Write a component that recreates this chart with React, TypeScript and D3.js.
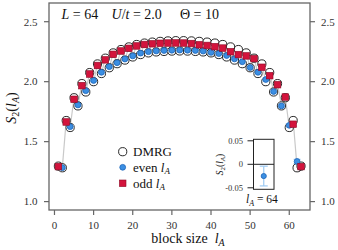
import * as d3 from 'd3';
import React from 'react';

// block sizes
const lOdd = [1, 3, 5, 7, 9, 11, 13, 15, 17, 19, 21, 23, 25, 27, 29, 31, 33, 35, 37, 39, 41, 43, 45, 47, 49, 51, 53, 55, 57, 59, 61, 63];
const lEven = [2, 4, 6, 8, 10, 12, 14, 16, 18, 20, 22, 24, 26, 28, 30, 32, 34, 36, 38, 40, 42, 44, 46, 48, 50, 52, 54, 56, 58, 60, 62];

// QMC, odd l_A
const sOdd = [1.292, 1.664, 1.853, 1.967, 2.064, 2.135, 2.182, 2.228, 2.256, 2.278, 2.298, 2.31, 2.316, 2.32, 2.322, 2.323, 2.322, 2.318, 2.308, 2.302, 2.292, 2.28, 2.25, 2.226, 2.215, 2.192, 2.12, 2.05, 1.975, 1.872, 1.645, 1.292];
const errOdd = [0.006, 0.008, 0.008, 0.008, 0.008, 0.008, 0.008, 0.008, 0.008, 0.008, 0.008, 0.008, 0.008, 0.008, 0.008, 0.008, 0.008, 0.008, 0.008, 0.008, 0.008, 0.008, 0.008, 0.008, 0.008, 0.01, 0.012, 0.012, 0.012, 0.014, 0.016, 0.012];

// QMC, even l_A
const sEven = [1.283, 1.625, 1.806, 1.925, 2.01, 2.078, 2.125, 2.158, 2.189, 2.215, 2.238, 2.25, 2.256, 2.26, 2.262, 2.263, 2.262, 2.26, 2.255, 2.244, 2.234, 2.218, 2.19, 2.166, 2.118, 2.078, 2.018, 1.918, 1.798, 1.636, 1.335];
const errEven = [0.006, 0.008, 0.008, 0.008, 0.008, 0.008, 0.008, 0.008, 0.008, 0.008, 0.008, 0.008, 0.008, 0.008, 0.008, 0.008, 0.008, 0.008, 0.008, 0.008, 0.008, 0.008, 0.008, 0.008, 0.01, 0.01, 0.012, 0.012, 0.014, 0.014, 0.018];

// DMRG, l_A = 1..63
const lAll = [1, 2, 3, 4, 5, 6, 7, 8, 9, 10, 11, 12, 13, 14, 15, 16, 17, 18, 19, 20, 21, 22, 23, 24, 25, 26, 27, 28, 29, 30, 31, 32, 33, 34, 35, 36, 37, 38, 39, 40, 41, 42, 43, 44, 45, 46, 47, 48, 49, 50, 51, 52, 53, 54, 55, 56, 57, 58, 59, 60, 61, 62, 63];
const sDmrg = [1.296, 1.282, 1.676, 1.618, 1.866, 1.798, 1.984, 1.914, 2.076, 2.0, 2.148, 2.068, 2.196, 2.116, 2.24, 2.15, 2.268, 2.18, 2.29, 2.206, 2.31, 2.226, 2.322, 2.24, 2.33, 2.248, 2.336, 2.252, 2.34, 2.255, 2.342, 2.256, 2.342, 2.255, 2.34, 2.252, 2.336, 2.248, 2.33, 2.24, 2.322, 2.226, 2.31, 2.206, 2.29, 2.18, 2.268, 2.15, 2.24, 2.116, 2.196, 2.068, 2.148, 2.0, 2.076, 1.914, 1.984, 1.798, 1.866, 1.618, 1.676, 1.282, 1.296];

const xTicks = [0, 10, 20, 30, 40, 50, 60];
const yTicks = [1.0, 1.5, 2.0, 2.5];

// inset: l_A = 64
const insetL = [64];
const insetS = [-0.025];
const insetErr = [0.021];
const insetTicks = [0.05, 0, -0.05];

const W = 338;
const H = 250;
const FONT = '"Liberation Serif", "DejaVu Serif", serif';
const AXIS = '#666';
const RED = '#d3133c';
const BLUE = '#3b8fe3';

const App: React.FC = () => {
    const x = d3.scaleLinear().domain([-1.4, 65.3]).range([49, 310]);
    const y = d3.scaleLinear().domain([0.93, 2.656]).range([210, 3]);

    const line = d3
        .line<number>()
        .x((d, i) => x(lAll[i]))
        .y((d) => y(d));

    // inset scales
    const ix = d3.scaleLinear().domain([63, 65]).range([253.5, 274]);
    const iy = d3.scaleLinear().domain([-0.0532, 0.0532]).range([189.3, 139.3]);

    const cap = 3.5;
    const sq = 6.6;

    return (
        <svg width={W} height={H} style={{ position: 'absolute', left: 0, top: 0 }} fontFamily={FONT}>
            <rect x={0} y={0} width={W} height={H} fill="white" />

            {/* gray guide line through DMRG */}
            <path d={line(sDmrg) ?? ''} fill="none" stroke="#c9c9c9" strokeWidth={1.2} />

            {/* DMRG circles */}
            <g fill="white" stroke="#111" strokeWidth={0.9}>
                {sDmrg.map((d, i) => (
                    <circle key={i} cx={x(lAll[i])} cy={y(d)} r={4.1} />
                ))}
            </g>

            {/* even l_A */}
            <g>
                {sEven.map((d, i) => {
                    const cx = x(lEven[i]);
                    return (
                        <g key={i} stroke="#9cc9f2" strokeWidth={1}>
                            <line x1={cx} x2={cx} y1={y(d - errEven[i])} y2={y(d + errEven[i])} />
                            <line x1={cx - cap} x2={cx + cap} y1={y(d - errEven[i])} y2={y(d - errEven[i])} />
                            <line x1={cx - cap} x2={cx + cap} y1={y(d + errEven[i])} y2={y(d + errEven[i])} />
                        </g>
                    );
                })}
                {sEven.map((d, i) => (
                    <circle key={i} cx={x(lEven[i])} cy={y(d)} r={2.9} fill={BLUE} stroke="#1d64b8" strokeWidth={0.8} />
                ))}
            </g>

            {/* odd l_A */}
            <g>
                {sOdd.map((d, i) => {
                    const cx = x(lOdd[i]);
                    return (
                        <g key={i} stroke="#f2a3b4" strokeWidth={1}>
                            <line x1={cx} x2={cx} y1={y(d - errOdd[i])} y2={y(d + errOdd[i])} />
                            <line x1={cx - cap} x2={cx + cap} y1={y(d - errOdd[i])} y2={y(d - errOdd[i])} />
                            <line x1={cx - cap} x2={cx + cap} y1={y(d + errOdd[i])} y2={y(d + errOdd[i])} />
                        </g>
                    );
                })}
                {sOdd.map((d, i) => (
                    <rect key={i} x={x(lOdd[i]) - sq / 2} y={y(d) - sq / 2} width={sq} height={sq} fill={RED} stroke="#8e0a26" strokeWidth={0.6} />
                ))}
            </g>

            {/* frame */}
            <rect x={49} y={3} width={261} height={207} fill="none" stroke={AXIS} strokeWidth={1.3} />

            {/* left / right y ticks, bottom x ticks */}
            <g fontSize={11} fill="#333">
                {yTicks.map((t) => (
                    <g key={t}>
                        <line x1={44} x2={49} y1={y(t)} y2={y(t)} stroke={AXIS} strokeWidth={1.2} />
                        <text x={37.5} y={y(t) + 3.8} textAnchor="end">{t.toFixed(1)}</text>
                        <line x1={310} x2={315} y1={y(t)} y2={y(t)} stroke={AXIS} strokeWidth={1.2} />
                        <text x={321} y={y(t) + 3.8} textAnchor="start">{t.toFixed(1)}</text>
                    </g>
                ))}
                {xTicks.map((t) => (
                    <g key={t}>
                        <line x1={x(t)} x2={x(t)} y1={210} y2={215} stroke={AXIS} strokeWidth={1.2} />
                        <text x={x(t)} y={229} textAnchor="middle">{t}</text>
                    </g>
                ))}
            </g>

            {/* axis titles */}
            <text x={188} y={243} fontSize={14} textAnchor="middle" fill="#111">
                block size{'\u00a0\u00a0'}
                <tspan fontStyle="italic">l</tspan>
                <tspan fontStyle="italic" fontSize={10} dy={3}>A</tspan>
            </text>
            <text transform="translate(16,108) rotate(-90)" fontSize={14} textAnchor="middle" fill="#111">
                <tspan fontStyle="italic">S</tspan>
                <tspan fontSize={10} dy={3}>2</tspan>
                <tspan dy={-3}>(</tspan>
                <tspan fontStyle="italic">l</tspan>
                <tspan fontStyle="italic" fontSize={10} dy={3}>A</tspan>
                <tspan dy={-3}>)</tspan>
            </text>

            {/* parameters */}
            <g fontSize={14} fill="#111">
                <text x={61.5} y={19}>
                    <tspan fontStyle="italic">L</tspan>
                    <tspan>{'\u00a0=\u00a064'}</tspan>
                </text>
                <text x={111.5} y={19}>
                    <tspan fontStyle="italic">U</tspan>
                    <tspan>/</tspan>
                    <tspan fontStyle="italic">t</tspan>
                    <tspan>{'\u00a0=\u00a02.0'}</tspan>
                </text>
                <text x={180} y={19}>{'Θ\u00a0=\u00a010'}</text>
            </g>

            {/* legend */}
            <g fontSize={13} fill="#111">
                <circle cx={122.7} cy={151.7} r={4.1} fill="white" stroke="#111" strokeWidth={0.9} />
                <text x={133} y={156}>DMRG</text>
                <circle cx={122.7} cy={167.3} r={2.9} fill={BLUE} stroke="#1d64b8" strokeWidth={0.8} />
                <text x={133} y={171.5}>
                    {'even\u00a0'}
                    <tspan fontStyle="italic">l</tspan>
                    <tspan fontStyle="italic" fontSize={9} dy={2.5}>A</tspan>
                </text>
                <rect x={122.7 - sq / 2} y={183.3 - sq / 2} width={sq} height={sq} fill={RED} stroke="#8e0a26" strokeWidth={0.6} />
                <text x={133} y={187.5}>
                    {'odd\u00a0'}
                    <tspan fontStyle="italic">l</tspan>
                    <tspan fontStyle="italic" fontSize={9} dy={2.5}>A</tspan>
                </text>
            </g>

            {/* inset */}
            <g>
                <rect x={253.5} y={139.3} width={20.5} height={50} fill="white" stroke="#222" strokeWidth={1} />
                <line x1={253.5} x2={274} y1={iy(0)} y2={iy(0)} stroke="#222" strokeWidth={1} />
                <g fontSize={8.5} fill="#333">
                    {insetTicks.map((t) => (
                        <g key={t}>
                            <line x1={247.5} x2={253.5} y1={iy(t)} y2={iy(t)} stroke="#222" strokeWidth={1} />
                            <text x={243} y={iy(t) + 3} textAnchor="end">{t === 0 ? '0' : t.toFixed(2)}</text>
                        </g>
                    ))}
                </g>
                {insetS.map((d, i) => {
                    const cx = ix(insetL[i]);
                    const lo = iy(d - insetErr[i]);
                    const hi = iy(d + insetErr[i]);
                    return (
                        <g key={i}>
                            <g stroke="#9cc9f2" strokeWidth={1.2}>
                                <line x1={cx} x2={cx} y1={lo} y2={hi} />
                                <line x1={cx - 4} x2={cx + 4} y1={lo} y2={lo} />
                                <line x1={cx - 4} x2={cx + 4} y1={hi} y2={hi} />
                            </g>
                            <circle cx={cx} cy={iy(d)} r={2.6} fill={BLUE} stroke="#1d64b8" strokeWidth={0.8} />
                        </g>
                    );
                })}
                <text transform="translate(223,164.5) rotate(-90)" fontSize={9.5} textAnchor="middle" fill="#111">
                    <tspan fontStyle="italic">S</tspan>
                    <tspan fontSize={7} dy={2}>2</tspan>
                    <tspan dy={-2}>(</tspan>
                    <tspan fontStyle="italic">l</tspan>
                    <tspan fontStyle="italic" fontSize={7} dy={2}>A</tspan>
                    <tspan dy={-2}>)</tspan>
                </text>
                <text x={246} y={203} fontSize={11.5} fill="#111">
                    <tspan fontStyle="italic">l</tspan>
                    <tspan fontStyle="italic" fontSize={8} dy={2.5}>A</tspan>
                    <tspan dy={-2.5}>{'\u00a0=\u00a064'}</tspan>
                </text>
            </g>
        </svg>
    );
};

export default App;
